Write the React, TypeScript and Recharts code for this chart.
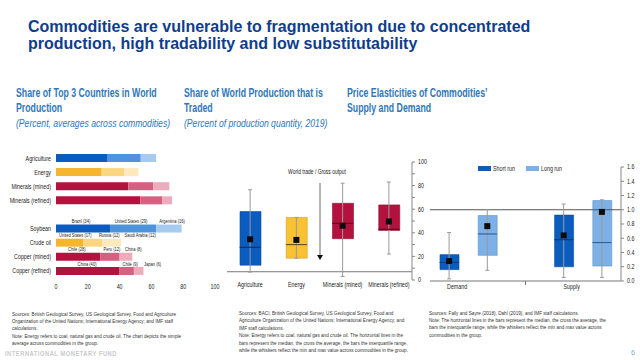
import React from 'react';
import {
  BarChart, Bar, XAxis, YAxis, Cell, LabelList,
  ComposedChart, Line, ErrorBar, ReferenceLine, Legend,
} from 'recharts';

const SANS = '"Liberation Sans", Arial, sans-serif';

/* ---------- Panel 1: share of top 3 countries in world production ---------- */
const shareCategories = ['Agriculture', 'Energy', 'Minerals (mined)', 'Minerals (refined)', '', 'Soybean', 'Crude oil', 'Copper (mined)', 'Copper (refined)'];
const shareGroup = [0, 1, 2, 2, 0, 0, 1, 2, 2];
const shareFirst = [32.5, 28.7, 45.5, 53, null, 34, 17, 28, 40];
const shareSecond = [20.8, 14.1, 15.7, 13.9, null, 29, 12, 12, 9];
const shareThird = [9.6, 9.0, 10.1, 6.1, null, 16, 12, 8, 6];
const shareFirstLabel = ['', '', '', '', '', 'Brazil (34)', 'United States (17)', 'Chile (28)', 'China (40)'];
const shareSecondLabel = ['', '', '', '', '', 'United States (29)', 'Russia (12)', 'Peru (12)', 'Chile (9)'];
const shareThirdLabel = ['', '', '', '', '', 'Argentina (16)', 'Saudi Arabia (12)', 'China (8)', 'Japan (6)'];
const shareTicks = [0, 20, 40, 60, 80, 100];

/* ---------- Panel 2: share of world production that is traded ---------- */
const tradeCategories = ['Agriculture', 'Energy', 'Minerals (mined)', 'Minerals (refined)'];
const tradeGroup = [0, 1, 2, 2];
const tradeMin = [6.7, 18.5, 3, 22];
const tradeQ1 = [12.6, 18.5, 35, 42];
const tradeMedian = [27.7, 30, 48, 43];
const tradeMean = [34.5, 34, 46, 49.6];
const tradeQ3 = [58, 53, 65, 63.6];
const tradeMax = [76.5, 53, 82, 83];
const tradeTicks = [0, 10, 20, 30, 40, 50, 60, 70, 80, 90, 100];
const tradeBaseline = 7;

/* ---------- Panel 3: price elasticities ---------- */
const elasticityCategories = ['Demand short run', 'Demand long run', 'gap', 'Supply short run', 'Supply long run'];
const elasticityTickLabels = ['Demand', '', '', 'Supply', ''];
const elasticityKind = [0, 1, -1, 0, 1];
const elasticitySeries = ['Short run', 'Long run'];
const elasticityMin = [0.03, 0.15, null, 0.05, 0.05];
const elasticityQ1 = [0.16, 0.36, null, 0.2, 0.21];
const elasticityMedian = [0.26, 0.66, null, 0.58, 0.54];
const elasticityMean = [0.28, 0.77, null, 0.64, 0.97];
const elasticityQ3 = [0.37, 0.92, null, 0.925, 1.13];
const elasticityMax = [0.68, 1.0, null, 1.08, 1.14];
const elasticityTicks = [0, 0.2, 0.4, 0.6, 0.8, 1.0, 1.2, 1.4, 1.6];
const elasticityUnit = 1.0;

/* ---------- styles ---------- */
const GROUP_COLORS = [
  ['#0b5cbf', '#4f93dc', '#a6cbf1'],
  ['#f6b52e', '#fbd580', '#fde9bd'],
  ['#b3123e', '#d5607f', '#eeabbc'],
];
const TRADE_FILL = ['#0b5cbf', '#f9c233', '#b3123e'];
const TRADE_EDGE = ['#0a4a9a', '#d99a1a', '#8a0c2e'];
const TRADE_MEDIAN = ['#0a2f66', '#6a4a10', '#5a0820'];
const ELAST_FILL = ['#0b5cbf', '#7db0e6'];
const ELAST_EDGE = ['#0a4a9a', '#5f95d0'];
const ELAST_MEDIAN = ['#083a7a', '#2e5f95'];
const SX = 0.76;
const LABEL_SIZE = 5.8;
const LABEL_SX = 0.7;
const LABEL_CHAR_W = 2.05;

const shareData = shareCategories.map((name, i) => ({
  name,
  first: shareFirst[i], second: shareSecond[i], third: shareThird[i],
  l1: shareFirstLabel[i], l2: shareSecondLabel[i], l3: shareThirdLabel[i],
}));

const tradeData = tradeCategories.map((name, i) => ({
  name,
  min: tradeMin[i],
  whisker: [0, tradeMax[i] - tradeMin[i]],
  box: [tradeQ1[i], tradeQ3[i]],
  median: tradeMedian[i],
  mean: tradeMean[i],
}));

const elasticityData = elasticityCategories.map((name, i) => ({
  name,
  min: elasticityMin[i],
  whisker: elasticityMin[i] == null ? null : [0, (elasticityMax[i] as number) - (elasticityMin[i] as number)],
  box: elasticityQ1[i] == null ? null : [elasticityQ1[i], elasticityQ3[i]],
  median: elasticityMedian[i],
  mean: elasticityMean[i],
}));

/* narrow-looking svg text: horizontal squeeze of Liberation Sans */
const NText = ({ x, y, anchor = 'middle', size = 7, dy, fill = '#222', sx = SX, children }: any) => (
  <text transform={`translate(${x} ${y}) scale(${sx} 1)`} x={0} y={0} dy={dy} textAnchor={anchor} fontSize={size} fill={fill} fontFamily={SANS}>
    {children}
  </text>
);

/* segment labels: centred over their segment, pushed right so they never collide */
const LAYER_LABELS = [shareFirstLabel, shareSecondLabel, shareThirdLabel];
const makeSegLabel = (layer: number) => (p: any) => {
  if (!p.value) return null;
  const i = LAYER_LABELS[layer].indexOf(p.value);
  if (i < 0) return null;
  const vals = [shareFirst[i], shareSecond[i], shareThird[i]].map((v) => (v == null ? 0 : v));
  const labels = [shareFirstLabel[i], shareSecondLabel[i], shareThirdLabel[i]];
  const pxPerUnit = p.width / vals[layer];
  let start = p.x - pxPerUnit * vals.slice(0, layer).reduce((a, b) => a + b, 0);
  let prevEnd = -Infinity;
  let pos = 0;
  for (let k = 0; k <= layer; k++) {
    const w = vals[k] * pxPerUnit;
    const lw = labels[k].length * LABEL_CHAR_W;
    const lx = Math.max(start + w / 2 - lw / 2, start + 3, prevEnd + 3);
    prevEnd = lx + lw;
    pos = lx;
    start += w;
  }
  return <NText x={pos} y={p.y - 1.3} anchor="start" size={LABEL_SIZE} sx={LABEL_SX}>{p.value}</NText>;
};

const ShareYTick = (p: any) => <NText x={p.x} y={p.y} anchor="end" dy="0.355em">{p.payload.value}</NText>;
const BottomTick = (p: any) => <NText x={p.x} y={p.y} anchor="middle" dy="0.71em">{p.payload.value}</NText>;
const TradeRightTick = (p: any) => {
  const v = p.payload.value;
  if (v % 20 !== 0) return <g />;
  return <NText x={p.x} y={p.y} anchor="start" dy="0.355em">{String(v)}</NText>;
};
const ElastRightTick = (p: any) => <NText x={p.x} y={p.y} anchor="start" dy="0.355em">{Number(p.payload.value).toFixed(1)}</NText>;

const makeMedian = (halfWidth: number, colors: string[], kinds: number[]) => (p: any) => {
  if (p.cy == null || isNaN(p.cy)) return <g key={p.index} />;
  return <line key={p.index} x1={p.cx - halfWidth} x2={p.cx + halfWidth} y1={p.cy} y2={p.cy} stroke={colors[kinds[p.index]]} strokeWidth={1.1} />;
};

const MeanDot = (p: any) => {
  if (p.cy == null || isNaN(p.cy)) return <g key={p.index} />;
  return <rect key={p.index} x={p.cx - 3} y={p.cy - 3} width={6} height={6} fill="#0c0c0c" />;
};

const ElasticityTick = (p: any) => {
  const { x, y, payload } = p;
  const idx = payload.index;
  const label = elasticityTickLabels[idx];
  return (
    <g>
      {idx === 2 && <line x1={x} x2={x} y1={y} y2={y + 4} stroke="#777" />}
      {label ? <NText x={x + 8} y={y + 8}>{label}</NText> : null}
    </g>
  );
};

const ElasticityLegend = () => (
  <div style={{ display: 'flex', alignItems: 'center', fontFamily: SANS, fontSize: 7, color: '#222', whiteSpace: 'nowrap' }}>
    {elasticitySeries.map((s, i) => (
      <div key={s} style={{ display: 'flex', alignItems: 'center', marginRight: 9 }}>
        <div style={{ width: 13, height: 5, background: ELAST_FILL[i], marginRight: 2 }} />
        <span style={{ display: 'inline-block', transform: `scaleX(${SX})`, transformOrigin: 'left center', width: i === 0 ? 24 : 22 }}>{s}</span>
      </div>
    ))}
  </div>
);

const abs = (l: number, t: number, extra: React.CSSProperties = {}): React.CSSProperties => ({ position: 'absolute', left: l, top: t, ...extra });

const panelTitle: React.CSSProperties = {
  fontFamily: SANS, fontSize: 12.5, lineHeight: '15px', color: '#2f77b8', fontWeight: 700, whiteSpace: 'nowrap',
  transform: 'scaleX(0.7)', transformOrigin: 'left top',
};
const panelSub: React.CSSProperties = {
  fontFamily: SANS, fontSize: 10.5, lineHeight: '15px', color: '#2f77b8', fontStyle: 'italic', whiteSpace: 'nowrap',
  transform: 'scaleX(0.82)', transformOrigin: 'left top',
};
const noteStyle: React.CSSProperties = {
  fontFamily: SANS, fontSize: 6.2, lineHeight: '7.4px', color: '#333', whiteSpace: 'nowrap',
  transform: 'scaleX(0.75)', transformOrigin: 'left top',
};

export default function App() {
  return (
    <div style={{ position: 'absolute', left: 0, top: 0, width: 640, height: 360, background: '#fff', overflow: 'hidden' }}>
      {/* main title */}
      <div style={abs(28, 18, { fontFamily: SANS, fontSize: 16, lineHeight: '17px', fontWeight: 700, color: '#0f3d8c', whiteSpace: 'nowrap' })}>
        Commodities are vulnerable to fragmentation due to concentrated<br />
        production, high tradability and low substitutability
      </div>

      {/* panel titles */}
      <div style={abs(16, 86, panelTitle)}>Share of Top 3 Countries in World<br />Production</div>
      <div style={abs(16, 116, panelSub)}>(Percent, averages across commodities)</div>
      <div style={abs(184, 86, panelTitle)}>Share of World Production that is<br />Traded</div>
      <div style={abs(184, 116, panelSub)}>(Percent of production quantity, 2019)</div>
      <div style={abs(347, 86, panelTitle)}>Price Elasticities of Commodities’<br />Supply and Demand</div>

      {/* Panel 1 */}
      <div style={abs(0, 140)}>
        <BarChart width={230} height={160} data={shareData} layout="vertical" margin={{ top: 11, right: 15, left: 6, bottom: 0 }}>
          <XAxis type="number" domain={[0, 100]} ticks={shareTicks} axisLine={false} tickLine={false} tickSize={6} tickMargin={0} height={22} tick={<BottomTick />} interval={0} />
          <YAxis type="category" dataKey="name" width={50} axisLine={false} tickLine={false} tickSize={5} tickMargin={0} tick={<ShareYTick />} interval={0} />
          <Bar dataKey="first" stackId="s" barSize={8} isAnimationActive={false}>
            {shareData.map((d, i) => <Cell key={i} fill={GROUP_COLORS[shareGroup[i]][0]} />)}
            <LabelList dataKey="l1" content={makeSegLabel(0)} />
          </Bar>
          <Bar dataKey="second" stackId="s" barSize={8} isAnimationActive={false}>
            {shareData.map((d, i) => <Cell key={i} fill={GROUP_COLORS[shareGroup[i]][1]} />)}
            <LabelList dataKey="l2" content={makeSegLabel(1)} />
          </Bar>
          <Bar dataKey="third" stackId="s" barSize={8} isAnimationActive={false}>
            {shareData.map((d, i) => <Cell key={i} fill={GROUP_COLORS[shareGroup[i]][2]} />)}
            <LabelList dataKey="l3" content={makeSegLabel(2)} />
          </Bar>
        </BarChart>
      </div>

      {/* Panel 2 */}
      <div style={abs(220, 150)}>
        <ComposedChart width={215} height={146} data={tradeData} margin={{ top: 12, right: 0, left: 7, bottom: 0 }}>
          <XAxis dataKey="name" axisLine={false} tickLine={false} tickSize={2} tickMargin={0} height={16} tick={<BottomTick />} interval={0} />
          <YAxis orientation="right" domain={[0, 100]} ticks={tradeTicks} width={23} interval={0}
            axisLine={{ stroke: '#888' }} tickLine={{ stroke: '#888' }} tickSize={3} tickMargin={3} tick={<TradeRightTick />} />
          <ReferenceLine y={tradeBaseline} stroke="#777" strokeWidth={1} />
          <Line dataKey="min" stroke="none" dot={false} activeDot={false} isAnimationActive={false} legendType="none">
            <ErrorBar dataKey="whisker" direction="y" width={2} stroke="#9a9a9a" strokeWidth={1} />
          </Line>
          <Bar dataKey="box" barSize={21} isAnimationActive={false}>
            {tradeData.map((d, i) => <Cell key={i} fill={TRADE_FILL[tradeGroup[i]]} stroke={TRADE_EDGE[tradeGroup[i]]} strokeWidth={0.6} />)}
          </Bar>
          <Line dataKey="median" stroke="none" dot={makeMedian(10.5, TRADE_MEDIAN, tradeGroup)} activeDot={false} isAnimationActive={false} />
          <Line dataKey="mean" stroke="none" dot={MeanDot} activeDot={false} isAnimationActive={false} />
        </ComposedChart>
      </div>

      {/* Panel 2 annotation */}
      <svg style={abs(0, 0)} width={640} height={360} pointerEvents="none">
        <NText x={317} y={174} size={6.5}>World trade / Gross output</NText>
        <line x1={320} x2={320} y1={183} y2={255} stroke="#444" strokeWidth={0.8} />
        <polygon points="317,255 323,255 320,260" fill="#111" />
      </svg>

      {/* Panel 3 */}
      <div style={abs(410, 148)}>
        <ComposedChart width={230} height={147} data={elasticityData} margin={{ top: 12, right: 0, left: 20, bottom: 0 }}>
          <XAxis dataKey="name" axisLine={{ stroke: '#777' }} tickLine={false} tickSize={0} tickMargin={0} height={14} tick={<ElasticityTick />} interval={0} />
          <YAxis orientation="right" domain={[0, 1.6]} ticks={elasticityTicks} width={19} interval={0}
            axisLine={{ stroke: '#888' }} tickLine={{ stroke: '#888' }} tickSize={3} tickMargin={3} tick={<ElastRightTick />} />
          <Legend verticalAlign="top" content={<ElasticityLegend />} wrapperStyle={{ top: 17, left: 68, width: 'auto' }} />
          <ReferenceLine y={elasticityUnit} stroke="#555" strokeWidth={1} />
          <Line dataKey="min" stroke="none" dot={false} activeDot={false} isAnimationActive={false} legendType="none">
            <ErrorBar dataKey="whisker" direction="y" width={2} stroke="#9a9a9a" strokeWidth={1} />
          </Line>
          <Bar dataKey="box" barSize={19} isAnimationActive={false}>
            {elasticityData.map((d, i) => <Cell key={i} fill={ELAST_FILL[Math.max(0, elasticityKind[i])]} stroke={ELAST_EDGE[Math.max(0, elasticityKind[i])]} strokeWidth={0.6} />)}
          </Bar>
          <Line dataKey="median" stroke="none" dot={makeMedian(9.5, ELAST_MEDIAN, elasticityKind.map((k) => Math.max(0, k)))} activeDot={false} isAnimationActive={false} />
          <Line dataKey="mean" stroke="none" dot={MeanDot} activeDot={false} isAnimationActive={false} />
        </ComposedChart>
      </div>

      {/* notes */}
      <div style={abs(12, 309.5, noteStyle)}>
        Sources: British Geological Survey, US Geological Survey, Food and Agriculture<br />
        Organization of the United Nations; International Energy Agency; and IMF staff<br />
        calculations.<br />
        Note: Energy refers to coal, natural gas and crude oil. The chart depicts the simple<br />
        average across commodities in the group.
      </div>
      <div style={abs(239, 309, noteStyle)}>
        Sources: BACI, British Geological Survey, US Geological Survey, Food and<br />
        Agriculture Organization of the United Nations; International Energy Agency; and<br />
        IMF staff calculations.<br />
        Note: Energy refers to coal, natural gas and crude oil. The horizontal lines in the<br />
        bars represent the median, the cross the average, the bars the interquartile range,<br />
        while the whiskers reflect the min and max value across commodities in the group.
      </div>
      <div style={abs(429, 308.6, noteStyle)}>
        Sources: Fally and Sayre (2018), Dahl (2019), and IMF staff calculations.<br />
        Note: The horizontal lines in the bars represent the median, the cross the average, the<br />
        bars the interquartile range, while the whiskers reflect the min and max value across<br />
        commodities in the group.
      </div>

      {/* footer */}
      <div style={abs(5, 350, { fontFamily: SANS, fontSize: 6.8, fontWeight: 700, letterSpacing: 0.6, color: '#cacaca', whiteSpace: 'nowrap', transform: 'scaleX(0.85)', transformOrigin: 'left top' })}>
        INTERNATIONAL MONETARY FUND
      </div>
      <div style={abs(631, 349, { fontFamily: SANS, fontSize: 7, color: '#7aaad8' })}>6</div>
    </div>
  );
}
